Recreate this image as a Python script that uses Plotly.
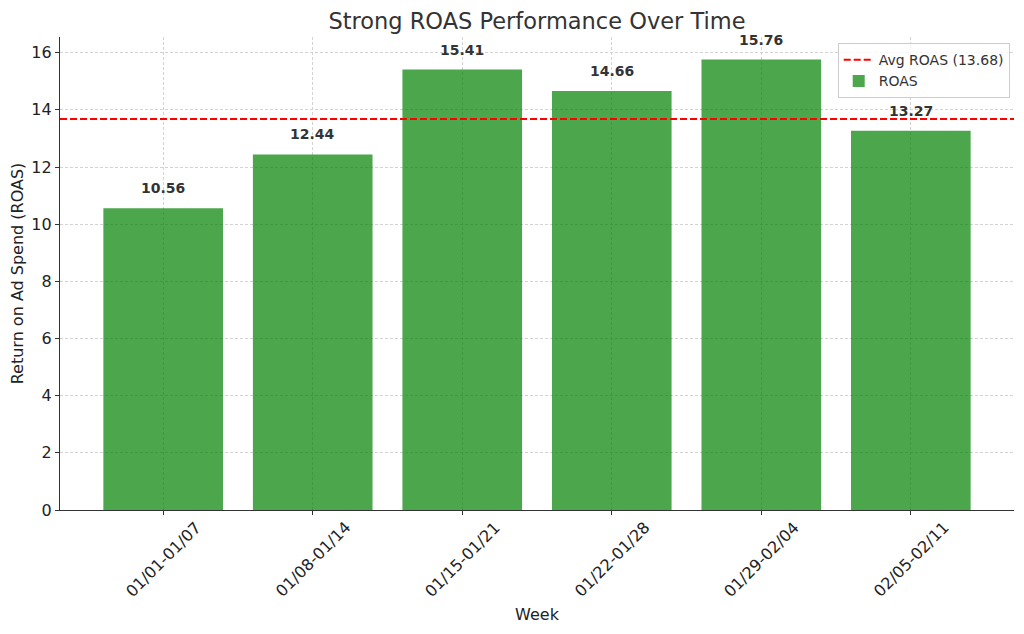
import plotly.graph_objects as go

weeks = ["01/01-01/07", "01/08-01/14", "01/15-01/21", "01/22-01/28", "01/29-02/04", "02/05-02/11"]
roas = [10.56, 12.44, 15.41, 14.66, 15.76, 13.27]
avg_roas = 13.68

fig = go.Figure()
fig.add_trace(go.Scatter(x=[None], y=[None], mode="lines", name=f"Avg ROAS ({avg_roas:.2f})",
                         line=dict(color="red", dash="7px,3px", width=2)))
fig.add_trace(go.Bar(x=list(range(len(weeks))), y=roas, name="ROAS", width=0.8,
                     marker=dict(color="rgba(0,128,0,0.7)", line=dict(width=0))))

fig.add_shape(type="line", xref="paper", x0=0, x1=1, yref="y", y0=avg_roas, y1=avg_roas,
              line=dict(color="red", dash="7px,3px", width=2))

for i, v in enumerate(roas):
    fig.add_annotation(x=i, y=v, text=f"<b>{v:.2f}</b>", showarrow=False, yshift=20,
                       font=dict(size=14, color="#333333"))

# rotated tick labels centred on their ticks
for i, w in enumerate(weeks):
    fig.add_annotation(x=i, xref="x", y=0, yref="paper", text=w, showarrow=False, textangle=-45,
                       xanchor="center", yanchor="middle", yshift=-49,
                       font=dict(size=16, color="#222222"))

grid = dict(showgrid=True, gridcolor="#d3d3d3", griddash="3px,2px", gridwidth=0.8)
fig.update_layout(
    width=1008, height=618,
    margin=dict(l=52, r=2, t=29, b=116),
    plot_bgcolor="white", paper_bgcolor="white",
    font=dict(family="DejaVu Sans", color="#333333"),
    title=dict(text="Strong ROAS Performance Over Time", x=0.5248, xanchor="center", y=0.979, yanchor="middle",
               font=dict(size=22.5, color="#333333")),
    legend=dict(x=0.9955, xanchor="right", y=0.987, yanchor="top", bordercolor="#cccccc", borderwidth=1,
                bgcolor="rgba(255,255,255,0.8)", font=dict(size=14, color="#333333"), tracegroupgap=0,
                itemwidth=30),
    xaxis=dict(range=[-0.69, 5.69], tickmode="array", tickvals=list(range(len(weeks))), showticklabels=False,
               ticks="outside", ticklen=4,
               tickcolor="#333333", showline=True, linecolor="#333333", linewidth=1.2, zeroline=False,
               automargin=False,
               title=dict(text="Week", font=dict(size=16, color="#222222"), standoff=94), **grid),
    yaxis=dict(range=[0, 16.548], tickvals=[0, 2, 4, 6, 8, 10, 12, 14, 16], tickfont=dict(size=16, color="#222222"),
               ticks="outside", ticklen=4, tickcolor="#333333", showline=True, linecolor="#333333", linewidth=1.2,
               zeroline=False, automargin=False,
               title=dict(text="Return on Ad Spend (ROAS)", font=dict(size=16, color="#222222"), standoff=3),
               **grid),
)

fig.write_html("out.html")
